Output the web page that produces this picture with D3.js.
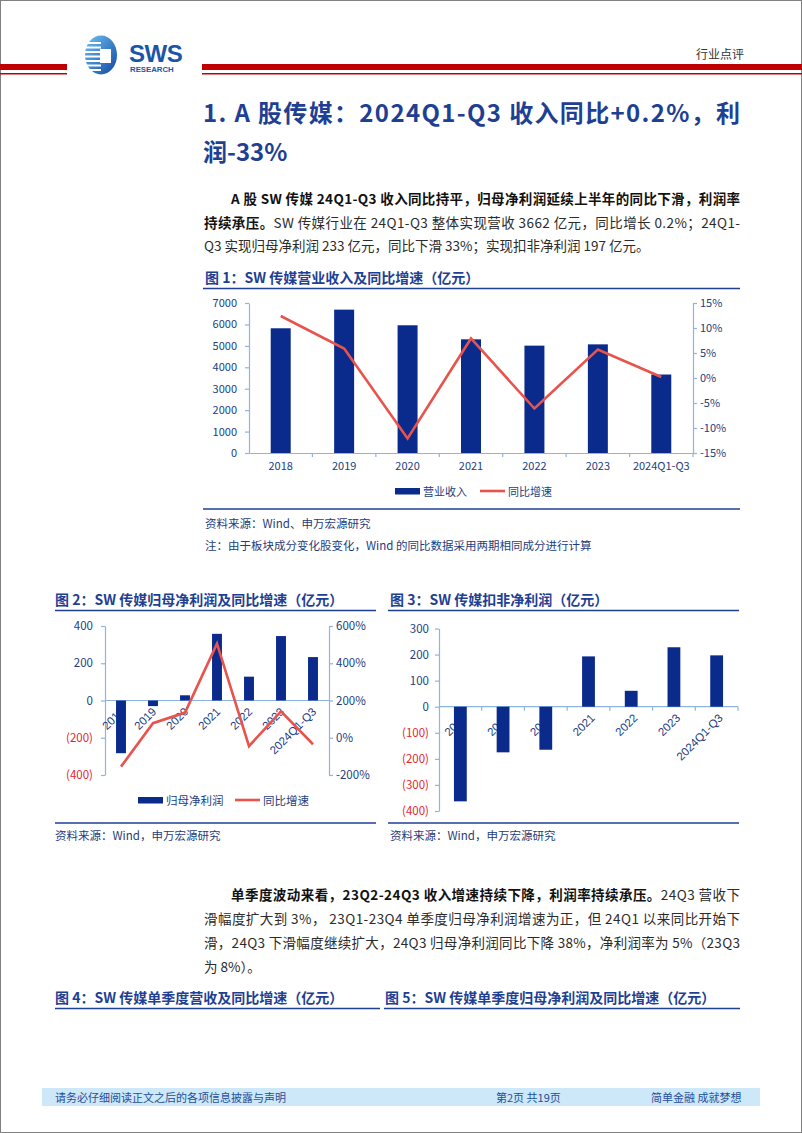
<!DOCTYPE html>
<html><head><meta charset="utf-8">
<script src="https://cdn.jsdelivr.net/npm/d3@7"></script>
<style>
body{margin:0;background:#fff;}
svg{display:block;}
text{font-family:"Noto Sans CJK SC","Noto Sans",sans-serif;}
.num{font-family:"Liberation Sans",Arial,sans-serif;}
</style></head><body>
<svg id="page" width="802" height="1133"></svg>
<script>
// ---------- DATA ----------
const categories = ["2018","2019","2020","2021","2022","2023","2024Q1-Q3"];
const revenue = [5820, 6690, 5960, 5305, 5010, 5070, 3662];          // 营业收入 (亿元)
const revenueYoY = [12.4, 5.9, -12.1, 7.9, -6.1, 5.7, 0.2];          // 同比增速 (%)
const netProfit = [-283, -30, 28, 358, 128, 346, 233];               // 归母净利润 (亿元)
const netProfitYoY = [-155, 78, 135, 505, -45, 142, -35];            // 同比增速 (%)
const deductedProfit = [-363, -175, -165, 193, 61, 228, 197];        // 扣非净利润 (亿元)
const revTicks = [0,1000,2000,3000,4000,5000,6000,7000];
const revPctTicks = [-15,-10,-5,0,5,10,15];
const npTicks = [-400,-200,0,200,400];
const npPctTicks = [-200,0,200,400,600];
const dpTicks = [-400,-300,-200,-100,0,100,200,300];

// ---------- STYLE ----------
const NAVY = "#0A2A8C", RED = "#E8534C", AXIS = "#8EB4E3", LBL = "#22407F",
      HEAD = "#1F3F93", NEG = "#E3262E", TXT = "#2b2b2b";

const svg = d3.select("#page");
svg.append("rect").attr("x",0.5).attr("y",0.5).attr("width",801).attr("height",1132)
  .attr("fill","#fff").attr("stroke","#808080");

// ---------- HEADER ----------
svg.append("rect").attr("x",0).attr("y",64).attr("width",67).attr("height",6).attr("fill","#C00000");
svg.append("rect").attr("x",0).attr("y",73).attr("width",67).attr("height",1.5).attr("fill","#C00000");
svg.append("rect").attr("x",202).attr("y",64).attr("width",600).attr("height",6).attr("fill","#C00000");
svg.append("rect").attr("x",202).attr("y",73).attr("width",600).attr("height",1.5).attr("fill","#C00000");

const defs = svg.append("defs");
const lg = defs.append("linearGradient").attr("id","logoG").attr("x1","0").attr("y1","0").attr("x2","1").attr("y2","1");
lg.append("stop").attr("offset","0").attr("stop-color","#6EC3F5");
lg.append("stop").attr("offset","1").attr("stop-color","#1346A0");
const logo = svg.append("g");
logo.append("ellipse").attr("cx",101).attr("cy",55).attr("rx",16).attr("ry",19.5).attr("fill","url(#logoG)");
[42,46.5,51,55.5,60,64.5,69].forEach(y=>{
  logo.append("rect").attr("x",83).attr("y",y).attr("width",18).attr("height",2).attr("fill","#fff");
});
logo.append("rect").attr("x",100).attr("y",49).attr("width",11).attr("height",14).attr("fill","#fff");
logo.append("text").attr("x",129).attr("y",61.5).attr("font-size",24).attr("font-weight",900)
  .attr("fill","#1A55A8").attr("class","num").attr("letter-spacing","-0.5").text("SWS");
logo.append("text").attr("x",130).attr("y",72).attr("font-size",7.8).attr("font-weight",700)
  .attr("fill","#1A55A8").attr("class","num").text("RESEARCH");

svg.append("text").attr("x",696).attr("y",58.5).attr("font-size",12).attr("fill","#333").text("行业点评");

// ---------- HEADING & PARAGRAPHS ----------
svg.append("text").attr("x",203).attr("y",122).attr("font-size",24).attr("font-weight",700).attr("fill",HEAD)
  .attr("textLength",537).attr("lengthAdjust","spacing")
  .text("1. A 股传媒：2024Q1-Q3 收入同比+0.2%，利");
svg.append("text").attr("x",203).attr("y",161).attr("font-size",24).attr("font-weight",700).attr("fill",HEAD)
  .text("润-33%");

function para(x, y, parts, len){
  const t = svg.append("text").attr("x",x).attr("y",y).attr("font-size",13.5).attr("fill",TXT);
  if(len) t.attr("textLength",len).attr("lengthAdjust","spacing");
  parts.forEach(p=>{
    t.append("tspan").attr("font-weight",p[1]?700:400).attr("fill",p[1]?"#111":TXT).text(p[0]);
  });
}
para(231,203.5,[["A 股 SW 传媒 24Q1-Q3 收入同比持平，归母净利润延续上半年的同比下滑，利润率",1]],509);
para(204,227.5,[["持续承压。",1],["SW 传媒行业在 24Q1-Q3 整体实现营收 3662 亿元，同比增长 0.2%；24Q1-",0]],536);
para(204,251,[["Q3 实现归母净利润 233 亿元，同比下滑 33%；实现扣非净利润 197 亿元。",0]]);

para(231,900,[["单季度波动来看，23Q2-24Q3 收入增速持续下降，利润率持续承压。",1],["24Q3 营收下",0]],509);
para(204,924,[["滑幅度扩大到 3%， 23Q1-23Q4 单季度归母净利润增速为正，但 24Q1 以来同比开始下",0]],536);
para(204,948,[["滑，24Q3 下滑幅度继续扩大，24Q3 归母净利润同比下降 38%，净利润率为 5%（23Q3",0]],536);
para(204,972,[["为 8%）。",0]]);

// ---------- helpers ----------
function figTitle(x, y, x1, x2, label){
  svg.append("text").attr("x",x).attr("y",y).attr("font-size",14).attr("font-weight",700).attr("fill",HEAD).text(label);
  svg.append("line").attr("x1",x1).attr("x2",x2).attr("y1",y+5.5).attr("y2",y+5.5).attr("stroke",HEAD).attr("stroke-width",1.5);
}
function sourceLine(x1, x2, y){
  svg.append("line").attr("x1",x1).attr("x2",x2).attr("y1",y).attr("y2",y).attr("stroke",HEAD).attr("stroke-width",1.5);
}
function sourceText(x, y, s){
  svg.append("text").attr("x",x).attr("y",y).attr("font-size",11.5).attr("fill","#1F3C7A").text(s);
}
function styleAxis(g){
  g.select(".domain").attr("stroke",AXIS).attr("stroke-width",1.2);
  g.selectAll(".tick line").attr("stroke",AXIS).attr("stroke-width",1.2);
  g.selectAll(".tick text").attr("fill",LBL).attr("font-family","Liberation Sans, Arial, sans-serif").attr("font-size",11);
}
const negFmt = v => v < 0 ? "(" + Math.abs(v) + ")" : String(v);

// ---------- FIGURE 1 ----------
figTitle(205, 283, 203, 740, "图 1：SW 传媒营业收入及同比增速（亿元）");
{
  const x = d3.scaleBand().domain(categories).range([249, 693]);
  const yL = d3.scaleLinear().domain([0,7000]).range([453,303]);
  const yR = d3.scaleLinear().domain([-15,15]).range([453,303]);
  const g = svg.append("g");
  const la = g.append("g").attr("transform","translate(249,0)")
    .call(d3.axisLeft(yL).tickValues(revTicks).tickSize(4).tickPadding(8).tickSizeOuter(0).tickFormat(d=>String(d)));
  styleAxis(la);
  const ra = g.append("g").attr("transform","translate(693,0)")
    .call(d3.axisRight(yR).tickValues(revPctTicks).tickSize(4).tickPadding(3).tickSizeOuter(0).tickFormat(d=>d+"%"));
  styleAxis(ra);
  const ba = g.append("g").attr("transform","translate(0,453)")
    .call(d3.axisBottom(x).tickSize(0).tickPadding(9).tickSizeOuter(0));
  styleAxis(ba);
  categories.slice(1).concat(["end"]).forEach((c,i)=>{
    const xx = c==="end" ? x.range()[1] : x(c);
    g.append("line").attr("x1",xx).attr("x2",xx).attr("y1",453).attr("y2",457).attr("stroke",AXIS).attr("stroke-width",1.2);
  });
  const bw = x.bandwidth()*0.315;
  g.selectAll(".b1").data(revenue).join("rect")
    .attr("x",(d,i)=>x(categories[i])+(x.bandwidth()-bw)/2).attr("width",bw)
    .attr("y",d=>yL(d)).attr("height",d=>yL(0)-yL(d)).attr("fill",NAVY);
  g.append("path").datum(revenueYoY)
    .attr("d", d3.line().x((d,i)=>x(categories[i])+x.bandwidth()/2).y(d=>yR(d)))
    .attr("fill","none").attr("stroke",RED).attr("stroke-width",2.6);
  // legend
  g.append("rect").attr("x",395).attr("y",488).attr("width",25).attr("height",6.5).attr("fill",NAVY);
  g.append("text").attr("x",423).attr("y",495.5).attr("font-size",11).attr("fill",LBL).text("营业收入");
  g.append("line").attr("x1",480).attr("x2",505).attr("y1",491).attr("y2",491).attr("stroke",RED).attr("stroke-width",2.6);
  g.append("text").attr("x",508).attr("y",495.5).attr("font-size",11).attr("fill",LBL).text("同比增速");
}
sourceLine(203, 740, 509);
sourceText(205, 527.5, "资料来源：Wind、申万宏源研究");
sourceText(205, 549.5, "注：由于板块成分变化股变化，Wind 的同比数据采用两期相同成分进行计算");

// ---------- FIGURE 2 ----------
figTitle(55, 605, 55, 376, "图 2：SW 传媒归母净利润及同比增速（亿元）");
{
  const x = d3.scaleBand().domain(categories).range([105, 329]);
  const yL = d3.scaleLinear().domain([-400,400]).range([775,626]);
  const yR = d3.scaleLinear().domain([-200,600]).range([775,626]);
  const g = svg.append("g");
  const la = g.append("g").attr("transform","translate(105,0)")
    .call(d3.axisLeft(yL).tickValues(npTicks).tickSize(4).tickPadding(8).tickSizeOuter(0).tickFormat(negFmt));
  styleAxis(la);
  la.selectAll(".tick text").attr("font-size",11.5).attr("fill",d=>d<0?NEG:LBL);
  const ra = g.append("g").attr("transform","translate(329,0)")
    .call(d3.axisRight(yR).tickValues(npPctTicks).tickSize(4).tickPadding(3).tickSizeOuter(0).tickFormat(d=>d+"%"));
  styleAxis(ra);
  ra.selectAll(".tick text").attr("font-size",11.5);
  const y0 = yL(0);
  // category labels (under bars)
  categories.forEach(c=>{
    g.append("text").attr("class","num").attr("text-anchor","end").attr("font-size",11.5).attr("fill",LBL)
      .attr("transform",`translate(${x(c)+x.bandwidth()/2+4},${y0+12}) rotate(-45)`).text(c);
  });
  g.append("line").attr("x1",105).attr("x2",329).attr("y1",y0).attr("y2",y0).attr("stroke",AXIS).attr("stroke-width",1.2);
  const bw = x.bandwidth()*0.31;
  g.selectAll(".b2").data(netProfit).join("rect")
    .attr("x",(d,i)=>x(categories[i])+(x.bandwidth()-bw)/2).attr("width",bw)
    .attr("y",d=>Math.min(yL(d),y0)).attr("height",d=>Math.abs(yL(d)-y0)).attr("fill",NAVY);
  g.append("path").datum(netProfitYoY)
    .attr("d", d3.line().x((d,i)=>x(categories[i])+x.bandwidth()/2).y(d=>yR(d)))
    .attr("fill","none").attr("stroke",RED).attr("stroke-width",2.6);
  g.append("rect").attr("x",138).attr("y",797).attr("width",25).attr("height",6.5).attr("fill",NAVY);
  g.append("text").attr("x",166).attr("y",804.5).attr("font-size",11.5).attr("fill",LBL).text("归母净利润");
  g.append("line").attr("x1",235).attr("x2",260).attr("y1",800).attr("y2",800).attr("stroke",RED).attr("stroke-width",2.6);
  g.append("text").attr("x",263).attr("y",804.5).attr("font-size",11.5).attr("fill",LBL).text("同比增速");
}
sourceLine(55, 376, 823);
sourceText(55, 840, "资料来源：Wind，申万宏源研究");

// ---------- FIGURE 3 ----------
figTitle(390, 605, 388, 739, "图 3：SW 传媒扣非净利润（亿元）");
{
  const x = d3.scaleBand().domain(categories).range([439, 738]);
  const y = d3.scaleLinear().domain([-400,300]).range([811,628.5]);
  const g = svg.append("g");
  const la = g.append("g").attr("transform","translate(439,0)")
    .call(d3.axisLeft(y).tickValues(dpTicks).tickSize(4).tickPadding(6).tickSizeOuter(0).tickFormat(negFmt));
  styleAxis(la);
  la.selectAll(".tick text").attr("font-size",11.5).attr("fill",d=>d<0?NEG:LBL);
  const y0 = y(0);
  categories.forEach(c=>{
    g.append("text").attr("class","num").attr("text-anchor","end").attr("font-size",11.5).attr("fill",LBL)
      .attr("transform",`translate(${x(c)+x.bandwidth()/2+7},${y0+12}) rotate(-45)`).text(c);
  });
  g.append("line").attr("x1",439).attr("x2",738).attr("y1",y0).attr("y2",y0).attr("stroke",AXIS).attr("stroke-width",1.2);
  categories.slice(1).concat(["end"]).forEach(c=>{
    const xx = c==="end" ? x.range()[1] : x(c);
    g.append("line").attr("x1",xx).attr("x2",xx).attr("y1",y0).attr("y2",y0+4).attr("stroke",AXIS).attr("stroke-width",1.2);
  });
  const bw = x.bandwidth()*0.30;
  g.selectAll(".b3").data(deductedProfit).join("rect")
    .attr("x",(d,i)=>x(categories[i])+(x.bandwidth()-bw)/2).attr("width",bw)
    .attr("y",d=>Math.min(y(d),y0)).attr("height",d=>Math.abs(y(d)-y0)).attr("fill",NAVY);
}
sourceLine(388, 739, 823);
sourceText(390, 840, "资料来源：Wind，申万宏源研究");

// ---------- FIGURE 4 / 5 titles ----------
figTitle(55, 1003, 55, 380, "图 4：SW 传媒单季度营收及同比增速（亿元）");
figTitle(385, 1003, 384, 740, "图 5：SW 传媒单季度归母净利润及同比增速（亿元）");

// ---------- FOOTER ----------
svg.append("rect").attr("x",42).attr("y",1088).attr("width",718).attr("height",18).attr("fill","#CDE8F8");
svg.append("text").attr("x",55).attr("y",1101.5).attr("font-size",11).attr("fill","#1F4E9A").text("请务必仔细阅读正文之后的各项信息披露与声明");
svg.append("text").attr("x",496).attr("y",1101.5).attr("font-size",11).attr("fill","#1F4E9A").text("第2页 共19页");
svg.append("text").attr("x",651).attr("y",1101.5).attr("font-size",11).attr("fill","#1F4E9A").text("简单金融 成就梦想");
</script>
</body></html>
